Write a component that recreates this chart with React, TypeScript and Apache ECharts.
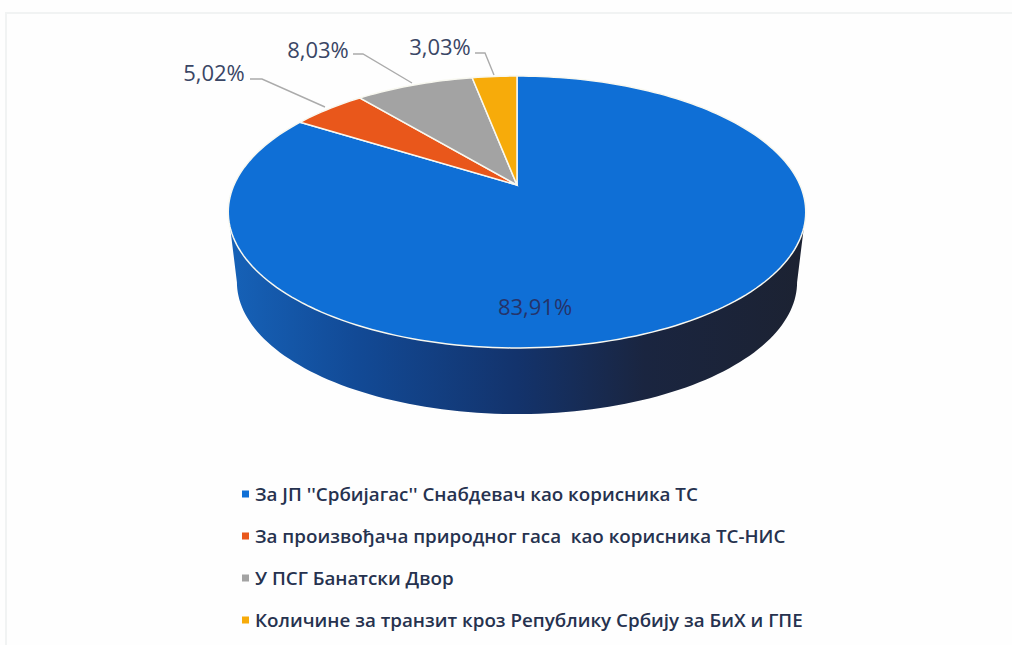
import React, { useEffect, useRef } from "react";
import * as echarts from "echarts";

const categories = [
  "За ЈП ''Србијагас'' Снабдевач као корисника ТС",
  "За произвођача природног гаса  као корисника ТС-НИС",
  "У ПСГ Банатски Двор",
  "Количине за транзит кроз Републику Србију за БиХ и ГПЕ",
];
const shareValues = [83.91, 5.02, 8.03, 3.03];
const sliceColors = ["#0f6fd6", "#e9571b", "#a3a3a3", "#f7ab0a"];
const labelAnchors = [[535, 306], [214, 72], [318, 49], [440, 46]];
const leaderLines = [
  null,
  [[250, 79], [262, 79], [325, 107]],
  [[353, 54], [363, 54], [412, 83]],
  [[475, 53], [485, 53], [494, 75]],
];

const CX = 517, CY = 185, A = 283, B = 130.6, K = 0.1985;
const DEPTH = 71, LOWER = 0.97;
const total = shareValues.reduce((s, v) => s + v, 0);

function project(deg: number, scale = 1, dy = 0): number[] {
  const t = (deg * Math.PI) / 180;
  const u = Math.sin(t), v = -Math.cos(t);
  const d = 1 - K * v;
  return [CX + (scale * A * u) / d, CY + dy + (scale * B * v) / d];
}

function arcPoints(from: number, to: number, scale = 1, dy = 0): number[][] {
  const n = Math.max(4, Math.ceil(Math.abs(to - from) / 1.5));
  const pts: number[][] = [];
  for (let i = 0; i <= n; i++) pts.push(project(from + ((to - from) * i) / n, scale, dy));
  return pts;
}

const formatShare = (v: number) => v.toFixed(2).replace(".", ",") + "%";

function makeRenderItem(index: number) {
  return (_params: any, api: any) => {
    const value = api.value(0);
    const before = shareValues.slice(0, index).reduce((s, v) => s + v, 0);
    const start = (before / total) * 360;
    const end = ((before + value) / total) * 360;
    const children: any[] = [];
    if (index === 0) {
      const extreme = (Math.acos(K) * 180) / Math.PI;
      const wall = arcPoints(180 + extreme, 180 - extreme, LOWER, DEPTH);
      children.push({
        type: "polygon",
        shape: { points: [project(180 + extreme), ...wall, project(180 - extreme)] },
        style: {
          fill: new echarts.graphic.LinearGradient(0, 0, 1, 0, [
            { offset: 0, color: "#1662b8" },
            { offset: 0.22, color: "#124a96" },
            { offset: 0.5, color: "#13336c" },
            { offset: 0.72, color: "#1a2540" },
            { offset: 1, color: "#1c2232" },
          ]),
        },
      });
    }
    children.push({
      type: "polygon",
      shape: { points: [[CX, CY], ...arcPoints(start, end)] },
      style: { fill: sliceColors[index], stroke: "#f8f8f0", lineWidth: 1.5 },
    });
    const line = leaderLines[index];
    if (line) {
      children.push({
        type: "polyline",
        shape: { points: line },
        style: { fill: "none", stroke: "#ababab", lineWidth: 1.4 },
      });
    }
    const [lx, ly] = labelAnchors[index];
    children.push({
      type: "text",
      x: lx,
      y: ly,
      style: {
        text: formatShare(value),
        fill: index === 0 ? "#25336a" : "#3a4665",
        font: "500 22px 'Open Sans'",
        align: "center",
        verticalAlign: "middle",
      },
    });
    return { type: "group", children };
  };
}

export default function App() {
  const ref = useRef<HTMLDivElement>(null);
  useEffect(() => {
    const chart = echarts.init(ref.current!, null, { renderer: "svg" });
    chart.setOption({
      animation: false,
      backgroundColor: "#fefefe",
      graphic: [
        {
          type: "rect",
          silent: true,
          shape: { x: 6, y: 13, width: 1020, height: 650 },
          style: { fill: "none", stroke: "#f1f3f3", lineWidth: 2 },
        },
      ],
      legend: {
        orient: "vertical",
        left: 237,
        top: 479,
        icon: "rect",
        itemWidth: 7,
        itemHeight: 7,
        itemGap: 22,
        selectedMode: false,
        data: categories,
        textStyle: {
          color: "#26324f",
          fontFamily: "Open Sans",
          fontWeight: 600,
          fontSize: 18.8,
          lineHeight: 20,
          padding: [0, 0, 0, 1],
        },
      },
      series: categories.map((name, i) => ({
        type: "custom",
        name,
        coordinateSystem: "none",
        silent: true,
        itemStyle: { color: sliceColors[i] },
        data: [[shareValues[i]]],
        renderItem: makeRenderItem(i),
      })),
    });
    return () => chart.dispose();
  }, []);
  return (
    <div
      ref={ref}
      style={{ position: "absolute", left: 0, top: 0, width: 1012, height: 645 }}
    />
  );
}
